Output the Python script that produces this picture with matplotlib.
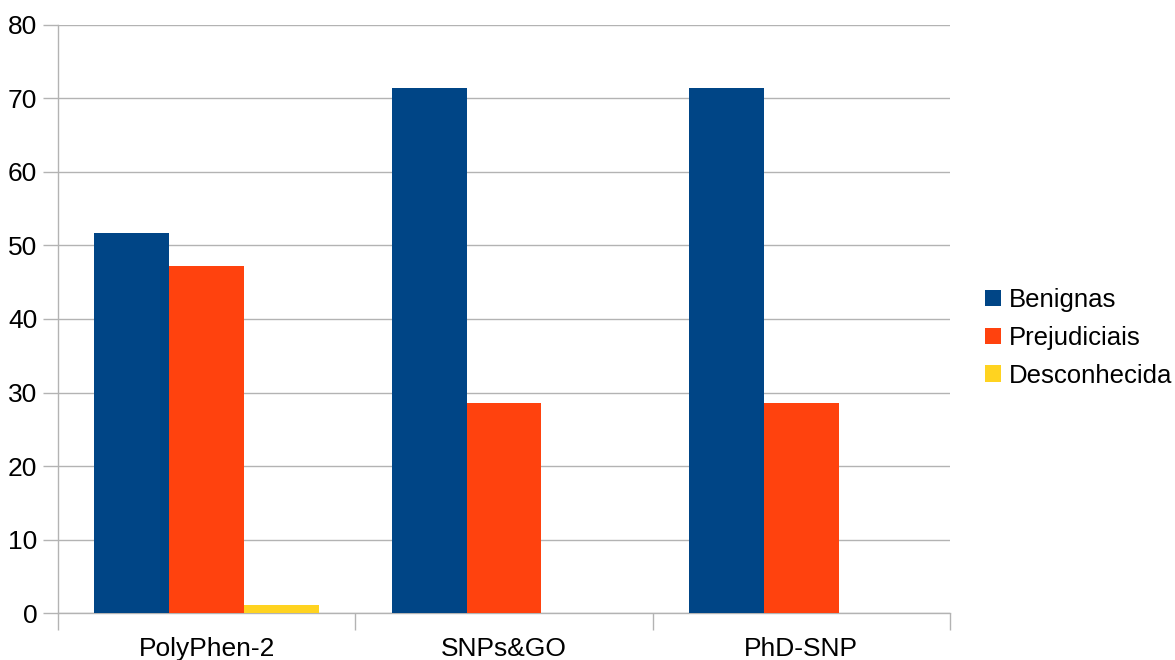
import matplotlib
matplotlib.use("Agg")
import matplotlib.pyplot as plt
import numpy as np

categories = ["PolyPhen-2", "SNPs&GO", "PhD-SNP"]
series_names = ["Benignas", "Prejudiciais", "Desconhecida"]
benignas = [51.69, 71.43, 71.43]
prejudiciais = [47.19, 28.57, 28.57]
desconhecida = [1.12, 0.0, 0.0]
colors = ["#004586", "#ff420e", "#ffd320"]
yticks = [0, 10, 20, 30, 40, 50, 60, 70, 80]

plt.rcParams['font.family'] = ['Liberation Sans', 'DejaVu Sans']

fig = plt.figure(figsize=(11.75, 6.6), dpi=100)
ax = fig.add_axes([58/1175, 1-613.3/660, (950-58)/1175, (613.3-24.7)/660])

x = np.arange(len(categories))
w = 0.252
for i, (vals, name, c) in enumerate(zip([benignas, prejudiciais, desconhecida], series_names, colors)):
    ax.bar(x + (i-1)*w, vals, width=w, color=c, label=name, zorder=3)

ax.set_xlim(-0.5, 2.5)
ax.set_ylim(0, 80)
ax.set_yticks(yticks)
ax.set_yticklabels([str(t) for t in yticks], fontsize=19)
ax.yaxis.grid(True, color="#b3b3b3", linewidth=1, zorder=0)
ax.set_axisbelow(True)

ax.set_xticks([-0.5, 0.5, 1.5, 2.5])
ax.set_xticklabels([])
ax.set_xticks(x, minor=True)
ax.set_xticklabels(categories, minor=True, fontsize=19)
ax.tick_params(axis='x', which='major', length=12, color="#b3b3b3", width=1)
ax.tick_params(axis='x', which='minor', length=0, pad=17)
ax.tick_params(axis='y', length=11, color="#b3b3b3", width=1, pad=4)

for s in ["top", "right"]:
    ax.spines[s].set_visible(False)
for s in ["left", "bottom"]:
    ax.spines[s].set_color("#b3b3b3")
    ax.spines[s].set_linewidth(1)

leg = ax.legend(loc="center left", bbox_to_anchor=(1.028, 0.468), frameon=False,
                fontsize=18.5, handlelength=0.6, handleheight=0.6, handletextpad=0.3,
                labelspacing=0.54, borderaxespad=0)

fig.savefig("out.png", dpi=100)
